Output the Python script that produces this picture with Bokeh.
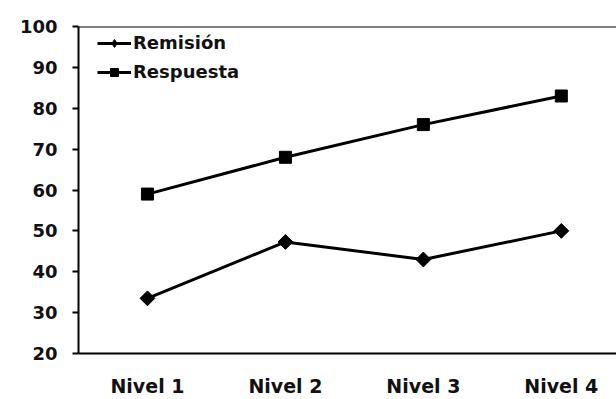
import math
from bokeh.plotting import figure
from bokeh.models import Range1d, FixedTicker, Span, Legend, LegendItem
from bokeh.embed import file_html
from bokeh.resources import INLINE

categories = ["Nivel 1", "Nivel 2", "Nivel 3", "Nivel 4"]
remision = [33.5, 47.3, 43.0, 50.0]
respuesta = [59.0, 68.0, 76.0, 83.0]
y_ticks = [20, 30, 40, 50, 60, 70, 80, 90, 100]

xs = [i + 1 for i in range(len(categories))]

p = figure(width=616, height=399, output_backend="svg", toolbar_location=None,
           x_range=Range1d(0.5, 4.4), y_range=Range1d(20, 100),
           min_border_left=78, min_border_right=0, min_border_top=26, min_border_bottom=45)
p.outline_line_color = None
p.xgrid.grid_line_color = None
p.ygrid.grid_line_color = None
p.background_fill_color = "white"
p.border_fill_color = "white"

FONT = "DejaVu Sans"

# y axis
p.yaxis.ticker = FixedTicker(ticks=y_ticks)
p.yaxis.axis_line_width = 2
p.yaxis.axis_line_color = "black"
p.yaxis.major_tick_in = 0
p.yaxis.major_tick_out = 6
p.yaxis.major_tick_line_width = 2
p.yaxis.minor_tick_line_color = None
p.yaxis.major_label_text_font = FONT
p.yaxis.major_label_text_font_style = "bold"
p.yaxis.major_label_text_font_size = "18px"
p.yaxis.major_label_text_color = "#111111"
p.yaxis.major_label_standoff = 15

# x axis
p.xaxis.ticker = FixedTicker(ticks=xs)
p.xaxis.major_label_overrides = {x: c for x, c in zip(xs, categories)}
p.xaxis.axis_line_width = 2
p.xaxis.axis_line_color = "black"
p.xaxis.major_tick_line_color = None
p.xaxis.major_tick_in = 0
p.xaxis.major_tick_out = 0
p.xaxis.minor_tick_line_color = None
p.xaxis.major_label_text_font = FONT
p.xaxis.major_label_text_font_style = "bold"
p.xaxis.major_label_text_font_size = "19px"
p.xaxis.major_label_text_color = "#111111"
p.xaxis.major_label_standoff = 21

# top border of plot area
p.add_layout(Span(location=100, dimension="width", line_color="black", line_width=2))

l1 = p.line(xs, remision, line_color="black", line_width=3)
# narrow diamond (used for the legend symbol), covered by the wider diamond below
k1 = p.scatter(xs, remision, marker="diamond", size=13,
               fill_color="black", line_color="black")
m1 = p.scatter(xs, remision, marker="square", size=10.5, angle=math.pi / 4,
               fill_color="black", line_color="black")
l2 = p.line(xs, respuesta, line_color="black", line_width=3)
m2 = p.scatter(xs, respuesta, marker="square", size=12,
               fill_color="black", line_color="black")

legend = Legend(items=[LegendItem(label="Remisión", renderers=[l1, k1]),
                       LegendItem(label="Respuesta", renderers=[l2, m2])],
                location=(19, 271), padding=0, margin=0, spacing=8,
                glyph_width=34, glyph_height=20, label_standoff=2,
                border_line_color=None, background_fill_alpha=0,
                label_text_font=FONT, label_text_font_style="bold",
                label_text_font_size="18px", label_text_color="#111111")
p.add_layout(legend)

open("out.html", "w").write(file_html(p, INLINE))
